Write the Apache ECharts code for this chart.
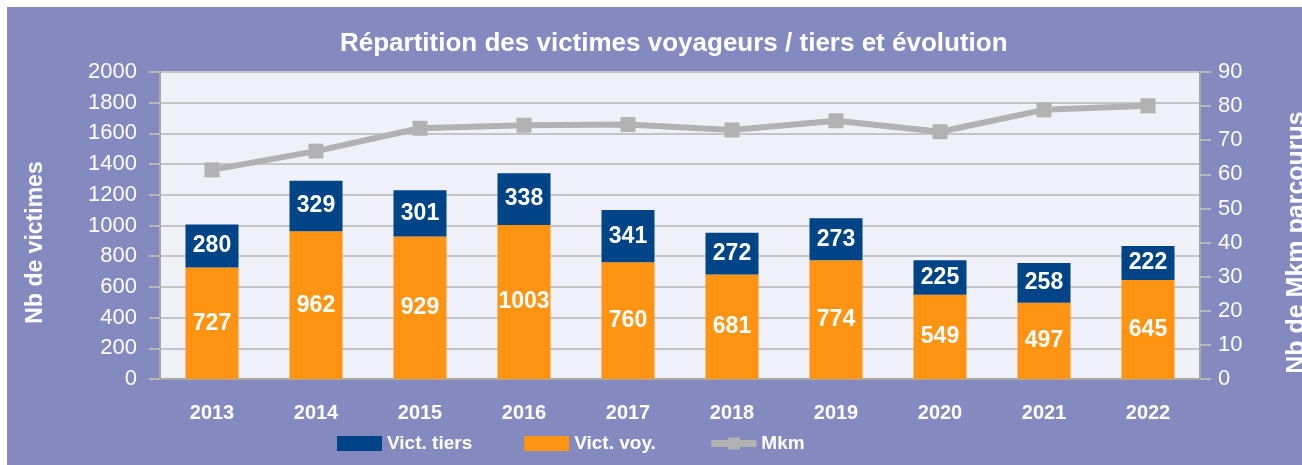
<!DOCTYPE html>
<html>
<head>
<meta charset="utf-8">
<script src="https://cdn.jsdelivr.net/npm/echarts@6/dist/echarts.min.js"></script>
<style>
  html, body { margin: 0; padding: 0; background: #fff; }
  #chart { position: absolute; left: 7px; top: 7px; width: 1295px; height: 458px; }
</style>
</head>
<body>
<div id="chart"></div>
<script>
const years = ['2013', '2014', '2015', '2016', '2017', '2018', '2019', '2020', '2021', '2022'];
const victVoy = [727, 962, 929, 1003, 760, 681, 774, 549, 497, 645];
const victTiers = [280, 329, 301, 338, 341, 272, 273, 225, 258, 222];
const mkm = [61.3, 66.8, 73.5, 74.4, 74.6, 73.0, 75.7, 72.5, 78.9, 80.1];

const sans = '"Liberation Sans", Arial, sans-serif';

const chart = echarts.init(document.getElementById('chart'));

const barLabel = {
    show: true,
    position: 'inside',
    color: '#fff',
    fontFamily: sans,
    fontWeight: 'bold',
    fontSize: 23
};

const option = {
    backgroundColor: '#8489c0',
    animation: false,
    title: {
        text: 'Répartition des victimes voyageurs / tiers et évolution',
        left: 328,
        top: 19,
        textStyle: {
            color: '#fff',
            fontFamily: sans,
            fontWeight: 'bold',
            fontSize: 26
        }
    },
    legend: {
        data: [
            { name: 'Vict. tiers', icon: 'rect' },
            { name: 'Vict. voy.', icon: 'rect' },
            { name: 'Mkm', lineStyle: { width: 7, color: '#b2b2b2' } }
        ],
        left: 330,
        top: 427,
        padding: 0,
        itemWidth: 45,
        itemHeight: 15,
        itemGap: 52,
        textStyle: {
            color: '#fff',
            fontFamily: sans,
            fontWeight: 'bold',
            fontSize: 19
        }
    },
    grid: {
        left: 153,
        right: 102,
        top: 65,
        bottom: 86,
        outerBoundsMode: 'none',
        show: true,
        backgroundColor: '#f0f1f8',
        borderWidth: 0
    },
    xAxis: {
        type: 'category',
        data: years,
        axisLine: { lineStyle: { color: '#a8a8a8', width: 2 } },
        axisTick: { length: 10, lineStyle: { color: '#c0c0c0', width: 1 } },
        axisLabel: {
            margin: 24,
            color: '#fff',
            fontFamily: sans,
            fontWeight: 'bold',
            fontSize: 20
        }
    },
    yAxis: [
        {
            type: 'value',
            min: 0,
            max: 2000,
            interval: 200,
            name: 'Nb de victimes',
            nameLocation: 'middle',
            nameGap: 113,
            nameTextStyle: {
                color: '#fff',
                fontFamily: sans,
                fontWeight: 'bold',
                fontSize: 23,
                padding: [0, 34, 0, 0]
            },
            axisLine: { show: true, lineStyle: { color: '#a8a8a8', width: 2 } },
            axisTick: { show: true, length: 11, lineStyle: { color: '#b8b8b8', width: 2 } },
            axisLabel: {
                margin: 23,
                color: '#fff',
                fontFamily: sans,
                fontSize: 22,
                formatter: function (v) { return String(v); }
            },
            splitLine: { lineStyle: { color: '#c4c4c8', width: 2 } }
        },
        {
            type: 'value',
            min: 0,
            max: 90,
            interval: 10,
            position: 'right',
            name: 'Nb de Mkm parcourus',
            nameLocation: 'middle',
            nameRotate: 90,
            nameGap: 85,
            nameTextStyle: {
                color: '#fff',
                fontFamily: sans,
                fontWeight: 'bold',
                fontSize: 25,
                padding: [0, 34, 0, 0]
            },
            axisLine: { show: true, lineStyle: { color: '#a8a8a8', width: 2 } },
            axisTick: { show: true, length: 11, lineStyle: { color: '#b8b8b8', width: 2 } },
            axisLabel: {
                margin: 18,
                color: '#fff',
                fontFamily: sans,
                fontSize: 22
            },
            splitLine: { show: false }
        }
    ],
    series: [
        {
            name: 'Vict. voy.',
            type: 'bar',
            stack: 'victimes',
            data: victVoy,
            barWidth: 53,
            itemStyle: { color: '#ff9412' },
            label: barLabel
        },
        {
            name: 'Vict. tiers',
            type: 'bar',
            stack: 'victimes',
            data: victTiers,
            barWidth: 53,
            itemStyle: { color: '#004488' },
            label: barLabel
        },
        {
            name: 'Mkm',
            type: 'line',
            yAxisIndex: 1,
            data: mkm,
            symbol: 'rect',
            symbolSize: 15,
            lineStyle: { color: '#b2b2b2', width: 6 },
            itemStyle: { color: '#b2b2b2' },
            z: 5
        }
    ]
};

chart.setOption(option);
</script>
</body>
</html>
